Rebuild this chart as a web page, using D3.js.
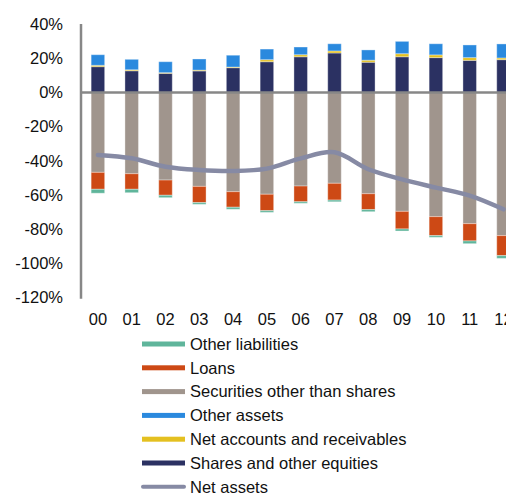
<!DOCTYPE html>
<html><head><meta charset="utf-8">
<script src="https://cdn.jsdelivr.net/npm/d3@7"></script>
<style>html,body{margin:0;padding:0;background:#fff;overflow:hidden}</style>
</head><body>
<svg id="c" width="506" height="495"></svg>
<script>
const categories = ["00","01","02","03","04","05","06","07","08","09","10","11","12"];
const shares      = [15.1,12.7,11.2,12.6,14.5,18.0,20.9,23.1,17.7,20.9,20.4,18.8,19.2];
const netAccounts = [0.8,0.6,0.4,0.5,0.4,1.2,1.2,1.2,1.2,1.8,1.6,1.6,1.0];
const otherAssets = [6.2,6.1,6.4,6.5,6.9,6.2,4.5,4.2,6.0,7.2,6.5,7.4,8.2];
const securities  = [-46.7,-47.5,-51.2,-54.9,-58.0,-59.5,-54.7,-53.1,-59.2,-69.5,-72.6,-76.7,-83.7];
const loans       = [-9.9,-9.1,-8.9,-9.5,-9.1,-9.6,-9.2,-9.8,-9.3,-10.3,-11.1,-10.1,-11.7];
const otherLiab   = [-2.3,-2.0,-1.4,-1.0,-1.2,-1.0,-0.9,-1.0,-1.2,-1.2,-1.0,-1.6,-1.6];
const netAssets   = [-36.5,-38.5,-43.4,-45.3,-45.9,-44.5,-38.5,-35.0,-44.9,-50.8,-55.6,-60.3,-68.3];
const yTicks = [40,20,0,-20,-40,-60,-80,-100,-120];

const seriesDefs = [
  {key:"shares", name:"Shares and other equities", values:shares, color:"#2b3162"},
  {key:"netAcc", name:"Net accounts and receivables", values:netAccounts, color:"#e4c020"},
  {key:"otherAssets", name:"Other assets", values:otherAssets, color:"#2a89de"},
  {key:"securities", name:"Securities other than shares", values:securities, color:"#a0958d"},
  {key:"loans", name:"Loans", values:loans, color:"#cd4915"},
  {key:"otherLiab", name:"Other liabilities", values:otherLiab, color:"#5fb59b"}
];
const lineColor = "#868aa4";

const rows = categories.map((c,i)=>{const o={cat:c}; seriesDefs.forEach(s=>o[s.key]=s.values[i]); return o;});
const stack = d3.stack().keys(seriesDefs.map(s=>s.key)).offset(d3.stackOffsetDiverging);
const stacked = stack(rows);

const svg = d3.select("#c");
const x = d3.scaleBand().domain(categories).range([81, 520.4]).paddingInner(0.6).paddingOuter(0.3);
const y = d3.scaleLinear().domain([-120, 40]).range([297.7, 24.1]);
const font = "'Liberation Sans', Arial, sans-serif";

// bars
stacked.forEach((layer,li)=>{
  svg.append("g").selectAll("rect").data(layer).join("rect")
    .attr("x", d=>x(d.data.cat))
    .attr("width", x.bandwidth())
    .attr("y", d=>y(Math.max(d[0],d[1])))
    .attr("height", d=>Math.abs(y(d[0])-y(d[1])))
    .attr("fill", seriesDefs[li].color)
    .attr("stroke","#fff").attr("stroke-opacity",0.35).attr("stroke-width",1);
});

// axes lines
svg.append("line").attr("x1",81).attr("x2",506).attr("y1",y(0)).attr("y2",y(0))
  .attr("stroke","#878787").attr("stroke-width",2.5);
svg.append("line").attr("x1",81).attr("x2",81).attr("y1",y(40)).attr("y2",y(-120)+1)
  .attr("stroke","#878787").attr("stroke-width",2.5);

// net assets line
const line = d3.line().x((d,i)=>x(categories[i])+x.bandwidth()/2).y(d=>y(d)).curve(d3.curveCatmullRom.alpha(0.5));
svg.append("path").attr("d", line(netAssets)).attr("fill","none")
  .attr("stroke",lineColor).attr("stroke-width",4.5).attr("stroke-linecap","round").attr("stroke-linejoin","round");

// y tick labels
svg.append("g").selectAll("text").data(yTicks).join("text")
  .attr("x",63).attr("y",d=>y(d)).attr("dy","0.35em").attr("text-anchor","end")
  .attr("font-family",font).attr("font-size",16.5).attr("fill","#111")
  .text(d=>d+"%");

// x tick labels
svg.append("g").selectAll("text").data(categories).join("text")
  .attr("x",d=>x(d)+x.bandwidth()/2).attr("y",319).attr("dy","0.35em").attr("text-anchor","middle")
  .attr("font-family",font).attr("font-size",16.5).attr("fill","#111")
  .text(d=>d);

// legend
const legendItems = [
  {name:"Other liabilities", color:"#5fb59b", type:"rect"},
  {name:"Loans", color:"#cd4915", type:"rect"},
  {name:"Securities other than shares", color:"#a0958d", type:"rect"},
  {name:"Other assets", color:"#2a89de", type:"rect"},
  {name:"Net accounts and receivables", color:"#e4c020", type:"rect"},
  {name:"Shares and other equities", color:"#2b3162", type:"rect"},
  {name:"Net assets", color:lineColor, type:"line"}
];
const lg = svg.append("g");
legendItems.forEach((it,i)=>{
  const cy = 344 + i*23.8;
  if(it.type==="rect"){
    lg.append("rect").attr("x",142).attr("y",cy-2.5).attr("width",43).attr("height",5).attr("fill",it.color);
  } else {
    lg.append("line").attr("x1",143).attr("x2",184).attr("y1",cy).attr("y2",cy)
      .attr("stroke",it.color).attr("stroke-width",4).attr("stroke-linecap","round");
  }
  lg.append("text").attr("x",190).attr("y",cy).attr("dy","0.35em")
    .attr("font-family",font).attr("font-size",16.5).attr("fill","#111").text(it.name);
});
</script>
</body></html>
